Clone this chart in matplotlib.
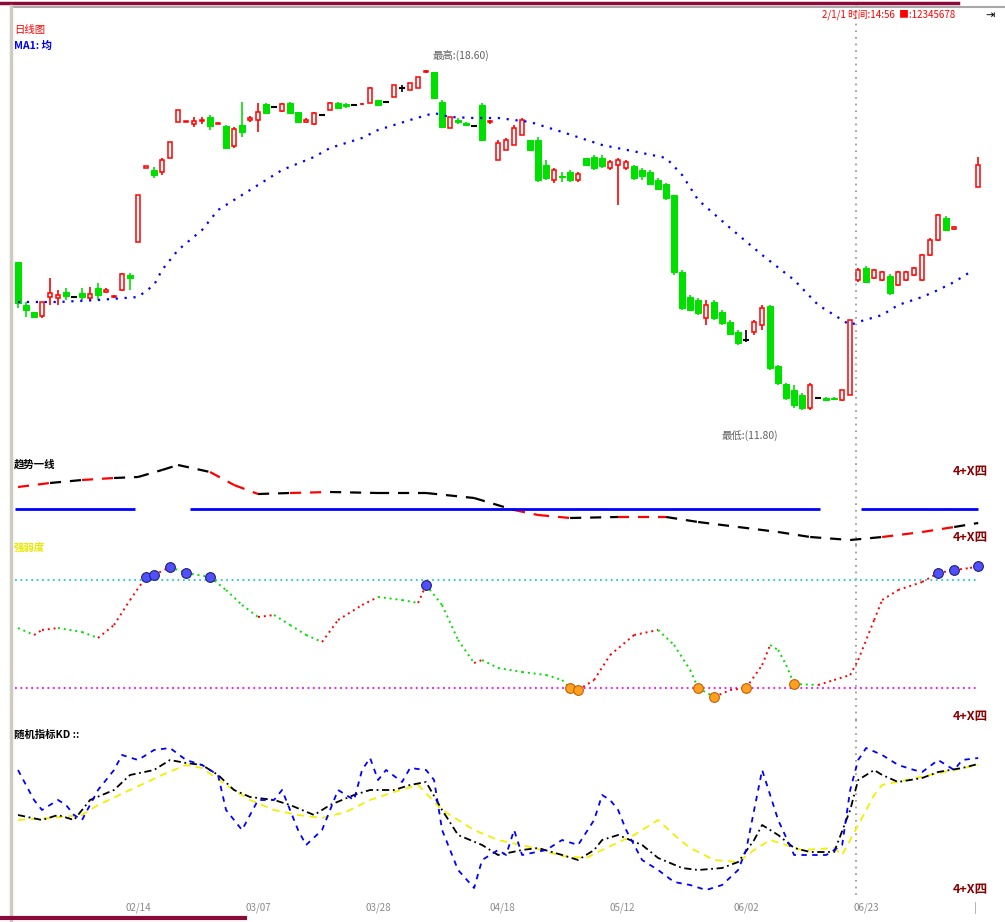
import numpy as np
import matplotlib
matplotlib.use("Agg")
import matplotlib.pyplot as plt
from matplotlib.patches import Rectangle
from matplotlib.lines import Line2D

plt.rcParams["font.family"] = ["Noto Sans CJK SC", "DejaVu Sans"]

W, H = 1005, 922
nan = np.nan

# ---- 日K线数据（第 0..120 个交易日）----
opens = [14.76, 13.90, 13.76, 13.68, 14.06, 14.04, 14.16, 14.06, 14.14, 14.04,
         14.24, 14.16, 14.06, 14.20, 14.50, 15.16, 16.64, 16.60, 16.56, 16.84,
         17.56, 17.56, 17.52, 17.58, 17.66, 17.52, 17.48, 17.08, 17.50, 17.60,
         17.60, 17.92, 17.86, 17.78, 17.94, 17.76, 17.56, 17.52, 17.70, 17.80,
         17.94, 17.92, 17.90, 17.91, 17.94, 18.00, 17.96, 18.06, 18.24, 18.20,
         18.24, 18.55, 18.56, 17.96, 17.44, 17.60, 17.54, 17.48, 17.90, 17.55,
         16.80, 17.00, 17.10, 17.30, 17.20, 17.20, 16.70, 16.40, 16.48, 16.56,
         16.40, 16.84, 16.86, 16.84, 16.64, 16.70, 16.64, 16.68, 16.60, 16.56,
         16.40, 16.32, 16.10, 14.56, 14.06, 14.00, 13.64, 13.96, 13.76, 13.56,
         13.36, 13.20, 13.36, 13.50, 13.88, 12.68, 12.32, 12.20, 12.10, 11.84,
         12.04, 12.04, 12.04, 12.00, 12.10, 14.40, 14.64, 14.44, 14.40, 14.48,
         14.30, 14.40, 14.50, 14.40, 14.90, 15.20, 15.64, 15.42, nan, nan,
         16.26]
closes = [13.94, 13.80, 13.66, 13.96, 14.14, 14.10, 14.08, 14.06, 14.06, 14.12,
          14.10, 14.20, 14.08, 14.52, 14.44, 16.10, 16.68, 16.50, 16.80, 17.16,
          17.80, 17.58, 17.58, 17.60, 17.48, 17.54, 17.04, 17.42, 17.36, 17.64,
          17.76, 17.74, 17.86, 17.92, 17.74, 17.56, 17.60, 17.74, 17.70, 17.94,
          17.84, 17.88, 17.90, 17.92, 18.24, 17.90, 17.96, 18.30, 18.24, 18.34,
          18.46, 18.58, 18.04, 17.46, 17.66, 17.56, 17.50, 17.48, 17.20, 17.57,
          17.14, 17.20, 17.44, 17.60, 17.00, 16.40, 16.44, 16.60, 16.46, 16.40,
          16.52, 16.70, 16.64, 16.68, 16.76, 16.80, 16.76, 16.44, 16.48, 16.32,
          16.22, 16.04, 14.56, 13.84, 13.80, 13.74, 13.90, 13.64, 13.54, 13.32,
          13.14, 13.20, 13.56, 13.84, 12.64, 12.34, 12.04, 11.90, 11.84, 12.30,
          12.04, 12.00, 12.02, 12.20, 13.60, 14.60, 14.36, 14.60, 14.56, 14.14,
          14.56, 14.56, 14.64, 14.90, 15.20, 15.70, 15.40, 15.46, nan, nan,
          16.70]
highs = [14.76, 13.96, 13.76, 13.96, 14.44, 14.20, 14.24, 14.08, 14.24, 14.26,
         14.34, 14.24, 14.10, 14.54, 14.54, 16.10, 16.68, 16.66, 16.84, 17.16,
         17.80, 17.58, 17.66, 17.66, 17.70, 17.54, 17.50, 17.46, 17.96, 17.68,
         17.94, 17.94, 17.88, 17.94, 17.96, 17.76, 17.64, 17.76, 17.72, 17.96,
         17.96, 17.94, 17.92, 17.94, 18.26, 18.00, 17.98, 18.30, 18.30, 18.34,
         18.46, 18.60, 18.56, 18.00, 17.66, 17.64, 17.56, 17.50, 17.94, 17.60,
         17.20, 17.24, 17.50, 17.64, 17.20, 17.26, 16.80, 16.64, 16.56, 16.60,
         16.56, 16.84, 16.90, 16.90, 16.80, 16.84, 16.80, 16.70, 16.64, 16.60,
         16.44, 16.34, 16.10, 14.60, 14.10, 14.04, 14.00, 14.00, 13.80, 13.60,
         13.40, 13.40, 13.60, 13.90, 13.90, 12.70, 12.34, 12.30, 12.14, 12.34,
         12.06, 12.06, 12.06, 12.20, 13.60, 14.64, 14.68, 14.62, 14.58, 14.52,
         14.58, 14.58, 14.66, 14.92, 15.24, 15.72, 15.68, 15.48, nan, nan,
         16.86]
lows = [13.84, 13.66, 13.66, 13.64, 13.90, 13.90, 14.00, 14.04, 14.00, 14.00,
        14.00, 14.14, 14.04, 14.18, 14.20, 15.16, 16.64, 16.44, 16.50, 16.84,
        17.56, 17.56, 17.46, 17.52, 17.40, 17.52, 17.04, 17.04, 17.26, 17.56,
        17.36, 17.74, 17.84, 17.76, 17.74, 17.56, 17.54, 17.50, 17.68, 17.80,
        17.84, 17.84, 17.88, 17.90, 17.94, 17.90, 17.94, 18.06, 18.16, 18.20,
        18.24, 18.54, 18.04, 17.46, 17.44, 17.52, 17.48, 17.46, 17.20, 17.52,
        16.80, 17.00, 17.10, 17.30, 17.00, 16.36, 16.40, 16.34, 16.36, 16.36,
        16.36, 16.70, 16.60, 16.64, 16.60, 15.90, 16.60, 16.40, 16.40, 16.30,
        16.20, 16.00, 14.50, 13.80, 13.80, 13.70, 13.50, 13.60, 13.50, 13.30,
        13.10, 13.16, 13.30, 13.40, 12.60, 12.30, 12.00, 11.84, 11.80, 11.80,
        12.02, 11.98, 12.00, 11.98, 12.10, 14.36, 14.34, 14.42, 14.38, 14.10,
        14.28, 14.38, 14.48, 14.38, 14.88, 15.18, 15.38, 15.40, nan, nan,
        16.26]

# 均线（蓝色点线）
ma_days = [0, 5, 10, 15, 17, 18, 20, 23, 25, 29, 33, 37, 39, 43, 45, 49, 52, 54, 57, 60,
           64, 68, 73, 78, 81, 83, 85, 89, 93, 97, 100, 104, 105, 108, 110, 113, 115, 117, 119]
ma_vals = [13.96, 13.96, 14.00, 14.06, 14.30, 14.60, 15.00, 15.40, 15.80, 16.20,
           16.60, 16.86, 17.04, 17.24, 17.40, 17.60, 17.74, 17.66, 17.64, 17.64,
           17.56, 17.36, 17.10, 16.94, 16.84, 16.50, 16.00, 15.44, 14.90, 14.40,
           13.90, 13.50, 13.56, 13.70, 13.90, 14.06, 14.20, 14.36, 14.56]

# 趋势线副图
trend_days = [0, 4, 8, 12, 15, 18, 20, 24, 27, 30, 34, 39, 45, 51, 57, 62, 65, 69, 75, 81,
              85, 90, 95, 99, 104, 108, 113, 117, 120]
trend_vals = [58, 62, 65, 67, 68, 75, 80, 73, 60, 51, 52, 53, 52, 52, 47, 35, 30, 27, 28, 28,
              23, 18, 13, 8, 5, 8, 13, 18, 22]
trend_red = [1, 0, 1, 0, 0, 0, 0, 1, 1, 0, 1, 0, 0, 0, 0, 1, 1, 0, 1, 0, 0, 0, 0, 0, 0, 1, 1, 0]
trend_level = 36
level_spans = [(-0.4, 14.6), (21.5, 100.2), (105.3, 120)]

# 强弱副图
sw_days = [0, 2, 3, 5, 8, 10, 12, 14, 16, 17, 19, 21, 24, 26, 28, 30, 32, 34, 36, 38,
           40, 43, 45, 48, 50, 51, 53, 55, 57, 58, 60, 63, 66, 68, 69, 70, 72, 74, 77, 80,
           82, 84, 85, 87, 89, 91, 93, 94, 95, 96, 97, 100, 102, 104, 105, 107, 108, 110,
           113, 115, 117, 119, 120]
sw_vals = [92, 85, 90, 92, 88, 82, 95, 120, 143, 145, 153, 147, 143, 130, 115, 103, 105, 95,
           85, 78, 100, 115, 123, 120, 117, 135, 115, 80, 57, 60, 52, 48, 45, 40, 32, 30, 40,
           65, 85, 90, 75, 50, 32, 23, 30, 32, 55, 75, 70, 55, 36, 35, 40, 45, 60, 100, 120,
           130, 138, 147, 150, 152, 154]
sw_high, sw_low = 140, 32
blue_sig = [16, 17, 19, 21, 24, 51, 115, 117, 120]
orange_sig = [69, 70, 85, 87, 91, 97]

# 随机指标副图
k_days = [0, 2, 3, 5, 6, 7, 8, 10, 12, 13, 15, 17, 19, 21, 23, 25, 26, 28, 30, 32,
          33, 35, 36, 38, 40, 42, 43, 44, 45, 46, 48, 49, 51, 52, 53, 55, 57, 58, 60, 61,
          62, 63, 66, 68, 70, 72, 73, 74, 75, 76, 78, 80, 82, 84, 86, 88, 90, 91, 92, 93,
          95, 97, 99, 101, 103, 104, 105, 106, 108, 110, 112, 113, 115, 116, 117, 118, 120]
k_vals = [130, 100, 90, 100, 95, 85, 80, 110, 130, 145, 140, 150, 152, 140, 135, 125, 90, 70, 100, 100,
          110, 70, 55, 70, 110, 100, 130, 142, 120, 130, 118, 132, 130, 120, 70, 30, 12, 40, 50, 45,
          70, 45, 50, 60, 55, 80, 105, 100, 90, 70, 40, 30, 18, 15, 10, 15, 30, 50, 90, 130,
          80, 45, 45, 45, 55, 110, 140, 152, 145, 135, 130, 128, 140, 135, 130, 140, 142]
d_days = [0, 3, 5, 7, 9, 12, 14, 17, 19, 21, 23, 25, 27, 29, 32, 34, 37, 39, 42, 44,
          47, 49, 51, 53, 55, 58, 60, 63, 65, 68, 70, 72, 73, 75, 78, 80, 83, 85, 88, 90,
          92, 93, 95, 97, 99, 102, 104, 105, 107, 108, 110, 113, 115, 118, 120]
d_vals = [85, 80, 85, 80, 100, 110, 125, 130, 140, 137, 135, 125, 110, 103, 100, 95, 85, 95, 105, 110,
          110, 115, 118, 90, 65, 55, 45, 50, 52, 45, 40, 50, 60, 65, 55, 42, 32, 30, 32, 38,
          60, 75, 65, 52, 48, 48, 90, 120, 130, 125, 118, 122, 128, 132, 136]
j_days = [0, 4, 8, 10, 14, 18, 21, 23, 26, 29, 32, 35, 38, 41, 44, 47, 50, 53, 57, 60,
          64, 68, 71, 73, 77, 80, 82, 84, 87, 90, 92, 94, 96, 98, 102, 103, 105, 107, 108, 111,
          114, 117, 120]
j_vals = [80, 82, 85, 95, 110, 125, 135, 132, 115, 100, 90, 85, 82, 88, 100, 108, 115, 90, 70, 60,
          53, 44, 42, 50, 65, 80, 65, 52, 40, 38, 50, 60, 55, 50, 52, 45, 75, 105, 115, 120,
          125, 130, 135]

tick_days = [15, 30, 45, 60.5, 75.5, 91, 106, 119.6]
tick_labels = ["02/14", "03/07", "03/28", "04/18", "05/12", "06/02", "06/23", "|"]
cursor_day = 104.75

RED, GREEN, BLUE, DARKRED = "#ff0000", "#00e000", "#0000ff", "#8b0000"

fig = plt.figure(figsize=(W / 100, H / 100), dpi=100)
fig.patch.set_facecolor("white")


def rect(top, bottom):
    return [13 / W, 1 - bottom / H, 990 / W, (bottom - top) / H]


def ftext(x, y, s, **kw):
    fig.text(x / W, 1 - y / H, s, va="center", **kw)


XLIM = (-0.625, 123.1)
ax1 = fig.add_axes(rect(5, 452))
ax2 = fig.add_axes(rect(452, 545))
ax3 = fig.add_axes(rect(545, 720))
ax4 = fig.add_axes(rect(720, 895))
for ax in (ax1, ax2, ax3, ax4):
    ax.set_xlim(*XLIM)
    ax.set_axis_off()
    ax.axvline(cursor_day, color="#909090", ls=(0, (1, 3)), lw=1.2)
ax1.set_ylim(10.96, 19.90)
ax2.set_ylim(0, 93)
ax3.set_ylim(0, 175)
ax4.set_ylim(5, 180)

# K线：阳线空心红，阴线实心绿，平盘黑
gw, rw = 0.7, 0.5
for i, (o, c, h, l) in enumerate(zip(opens, closes, highs, lows)):
    if np.isnan(o):
        continue
    if c > o:
        ax1.vlines(i, l, o, color=RED, lw=1.2)
        ax1.vlines(i, c, h, color=RED, lw=1.2)
        ax1.add_patch(Rectangle((i - rw / 2, o), rw, c - o, fill=False, ec=RED, lw=1.1))
    elif c < o:
        ax1.vlines(i, l, h, color=GREEN, lw=1.2)
        ax1.add_patch(Rectangle((i - gw / 2, c), gw, o - c, fc=GREEN, ec=GREEN, lw=0.8))
    else:
        ax1.vlines(i, l, h, color="black", lw=1.2)
        ax1.hlines(o, i - gw / 2, i + gw / 2, color="black", lw=1.5)
ax1.plot(ma_days, ma_vals, color=BLUE, ls=(0, (1, 3)), lw=1.6)

# 趋势线
for k in range(len(trend_days) - 1):
    col = RED if trend_red[k] else "black"
    ax2.plot(trend_days[k:k + 2], trend_vals[k:k + 2], color=col, ls=(0, (5, 4)), lw=1.6)
for a, b in level_spans:
    ax2.hlines(trend_level, a, b, color=BLUE, lw=2)

# 强弱
ax3.hlines(sw_high, -0.4, 120, color="#22cccc", ls=(0, (1, 2)), lw=1.3)
ax3.hlines(sw_low, -0.4, 120, color="#ff00ff", ls=(0, (1, 2)), lw=1.3)
for k in range(len(sw_days) - 1):
    col = RED if sw_vals[k + 1] > sw_vals[k] else GREEN
    ax3.plot(sw_days[k:k + 2], sw_vals[k:k + 2], color=col, ls=(0, (1, 2)), lw=1.4)
sw_map = dict(zip(sw_days, sw_vals))
ax3.plot(blue_sig, [sw_map[d] for d in blue_sig], "o", ms=7, mfc="#5050ff", mec="#202070", mew=0.8)
ax3.plot(orange_sig, [sw_map[d] for d in orange_sig], "o", ms=7, mfc="#ffa020", mec="#c06000", mew=0.8)

# 随机指标
ax4.plot(j_days, j_vals, color="#f0f000", ls=(0, (4, 3)), lw=1.3)
ax4.plot(d_days, d_vals, color="black", ls=(0, (4, 2, 1, 2)), lw=1.3)
ax4.plot(k_days, k_vals, color=BLUE, ls=(0, (3, 3)), lw=1.3)
for d, lab in zip(tick_days, tick_labels):
    ax4.text(d, -0.075, lab, transform=ax4.get_xaxis_transform(), ha="center",
             va="center", fontsize=7, color="#8a8a8a")

# 框线
fig.add_artist(Line2D([0, 958 / W], [1 - 3 / H] * 2, color="#8b0a3a", lw=2.5))
fig.add_artist(Line2D([13 / W, 1], [1 - 7 / H] * 2, color="#a8a8a8", lw=1.5))
fig.add_artist(Line2D([11 / W] * 2, [0, 1 - 6 / H], color="#cfcbc0", lw=2.5))
fig.add_artist(Line2D([0, 245 / W], [1 - 918 / H] * 2, color="#8b0a3a", lw=3))

# 文字
ftext(14, 30, "日线图", color=RED, fontsize=7.5)
ftext(14, 46, "MA1: 均", color=BLUE, fontsize=7.5, fontweight="bold")
ftext(822, 15, "2/1/1 时间:14:56  ■:12345678", color=RED, fontsize=7)
ftext(985, 15, "⇥", color="black", fontsize=8)
ftext(433, 55, "最高:(18.60)", color="#606060", fontsize=7.5)
ftext(722, 436, "最低:(11.80)", color="#606060", fontsize=7.5)
ftext(14, 465, "趋势一线", color="black", fontsize=7.5, fontweight="bold")
ftext(14, 549, "强弱度", color="#e8e800", fontsize=7.5, fontweight="bold")
ftext(14, 735, "随机指标KD ::", color="black", fontsize=7.5, fontweight="bold")
for y in (472, 538, 717, 890):
    ftext(953, y, "4+X四", color=DARKRED, fontsize=9, fontweight="bold")

fig.savefig("out.png", dpi=100)
